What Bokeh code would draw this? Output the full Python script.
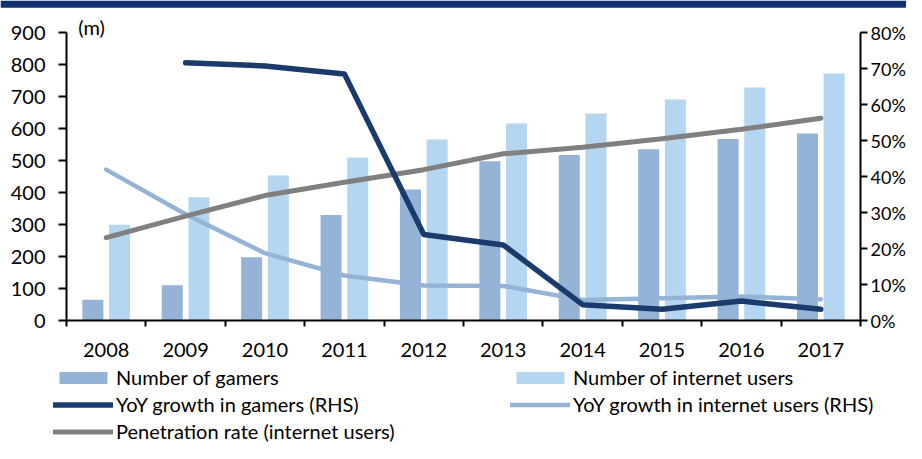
from bokeh.plotting import figure
from bokeh.models import (Range1d, LinearAxis, FixedTicker, PrintfTickFormatter,
                          Legend, LegendItem, Label, ColumnDataSource, BoxAnnotation)
from bokeh.embed import file_html
from bokeh.resources import INLINE

years = ["2008", "2009", "2010", "2011", "2012", "2013", "2014", "2015", "2016", "2017"]
gamers = [65, 110, 198, 330, 409, 498, 517, 535, 567, 584]
internet_users = [299, 385, 453, 509, 566, 616, 647, 691, 728, 772]
yoy_gamers = [float("nan"), 71.6, 70.7, 68.5, 23.9, 21.0, 4.4, 3.1, 5.4, 3.1]
yoy_internet = [41.9, 29.5, 18.7, 12.5, 9.7, 9.6, 5.7, 6.2, 6.7, 5.9]
penetration = [23.0, 29.0, 34.7, 38.4, 41.9, 46.3, 48.1, 50.5, 53.1, 56.2]
left_ticks = [0, 100, 200, 300, 400, 500, 600, 700, 800, 900]
right_ticks = [0, 10, 20, 30, 40, 50, 60, 70, 80]

FONT = "Lato"
FS = "20px"
C_GAMERS = "#95B3D7"
C_INTERNET = "#B5D6F0"
C_DARK = "#1B3B6D"
C_LIGHT = "#95B3D7"
C_GRAY = "#808080"
C_BAND = "#14316F"

W, H = 906, 443
# plot-area geometry (pixels within the figure)
FL, FR, FT, FB = 66, 860, 32, 320
n = len(years)
ppx = (FR - FL) / n              # px per category
ppy = (FB - FT) / 900.0          # px per left unit
ppr = (FB - FT) / 80.0           # px per right unit

x_lo = -0.5 - FL / ppx
x_hi = n - 0.5 + (W - FR) / ppx
y_lo = -(H - FB) / ppy
y_hi = 900 + FT / ppy
r_lo = -(H - FB) / ppr
r_hi = 80 + FT / ppr

idx = list(range(n))
src = ColumnDataSource(dict(
    x=idx,
    xg=[i - 0.168 for i in idx],
    xi=[i + 0.168 for i in idx],
    gamers=gamers,
    internet=internet_users,
    yoy_g=yoy_gamers,
    yoy_i=yoy_internet,
    pen=penetration,
))

p = figure(width=W, height=H, output_backend="svg", toolbar_location=None,
           x_range=Range1d(x_lo, x_hi), y_range=Range1d(y_lo, y_hi),
           min_border=0)
p.min_border_left = 0
p.min_border_right = 0
p.min_border_top = 0
p.min_border_bottom = 0
p.outline_line_color = None
p.xgrid.visible = False
p.ygrid.visible = False
p.background_fill_color = "white"
p.border_fill_color = "white"

p.extra_y_ranges = {"pct": Range1d(r_lo, r_hi)}

# title band (cropped header)
p.add_layout(BoxAnnotation(bottom=y_hi - 7.3 / ppy, top=y_hi, fill_color=C_BAND,
                           fill_alpha=1, line_color=None, level="underlay"))

# bars
r_g = p.vbar(x="xg", top="gamers", bottom=0, width=0.265, source=src,
             fill_color=C_GAMERS, line_color=None)
r_i = p.vbar(x="xi", top="internet", bottom=0, width=0.265, source=src,
             fill_color=C_INTERNET, line_color=None)

# lines
r_yi = p.line(x="x", y="yoy_i", source=src, y_range_name="pct", line_color=C_LIGHT,
              line_width=4.5, line_cap="round", line_join="round")
r_pen = p.line(x="x", y="pen", source=src, y_range_name="pct", line_color=C_GRAY,
               line_width=5, line_cap="round", line_join="round")
r_yg = p.line(x="x", y="yoy_g", source=src, y_range_name="pct", line_color=C_DARK,
              line_width=5.5, line_cap="round", line_join="round")

# x axis
xa = p.xaxis[0]
xa.fixed_location = 0
xa.bounds = (-0.5, n - 0.5)
xa.ticker = FixedTicker(ticks=idx, minor_ticks=[i - 0.5 for i in range(n + 1)])
xa.major_label_overrides = {i: y for i, y in zip(idx, years)}
xa.major_tick_line_color = None
xa.major_tick_in = 0
xa.major_tick_out = 6
xa.minor_tick_in = 0
xa.minor_tick_out = 6
xa.minor_tick_line_color = "black"
xa.minor_tick_line_width = 2
xa.axis_line_color = "black"
xa.axis_line_width = 2
xa.major_label_standoff = 16
xa.major_label_text_font = FONT
xa.major_label_text_font_size = FS
xa.major_label_text_color = "black"

# left axis
ya = p.yaxis[0]
ya.fixed_location = -0.5
ya.bounds = (0, 900)
ya.ticker = FixedTicker(ticks=left_ticks)
ya.major_tick_in = 0
ya.major_tick_out = 8
ya.minor_tick_line_color = None
ya.major_tick_line_width = 2
ya.axis_line_width = 2
ya.axis_line_color = "black"
ya.major_label_standoff = 13
ya.major_label_text_font = FONT
ya.major_label_text_font_size = FS
ya.major_label_text_color = "black"

# right axis
ra = LinearAxis(y_range_name="pct", ticker=FixedTicker(ticks=right_ticks),
                formatter=PrintfTickFormatter(format="%d%%"))
ra.fixed_location = n - 0.5
ra.bounds = (0, 80)
ra.major_tick_in = 0
ra.major_tick_out = 7
ra.minor_tick_line_color = None
ra.major_tick_line_width = 2
ra.axis_line_width = 2
ra.axis_line_color = "black"
ra.major_label_standoff = 3
ra.major_label_text_font = FONT
ra.major_label_text_font_size = "18px"
ra.major_label_text_color = "black"
p.add_layout(ra, "right")

# unit label
p.add_layout(Label(x=-0.185, y=916, text="(m)", text_align="center",
                   text_baseline="middle", text_font=FONT, text_font_size=FS,
                   text_color="black"))

legend = Legend(items=[
    LegendItem(label="Number of gamers", renderers=[r_g]),
    LegendItem(label="Number of internet users", renderers=[r_i]),
    LegendItem(label="YoY growth in gamers (RHS)", renderers=[r_yg]),
    LegendItem(label="YoY growth in internet users (RHS)", renderers=[r_yi]),
    LegendItem(label="Penetration rate (internet users)", renderers=[r_pen]),
], location=(53, 0), orientation="horizontal", ncols=2,
    glyph_width=60, glyph_height=15, label_standoff=3, label_width=391,
    label_height=22, spacing=3, padding=0, margin=0,
    border_line_color=None, background_fill_alpha=0,
    label_text_font=FONT, label_text_font_size=FS, label_text_color="black")
p.add_layout(legend)

open("out.html", "w").write(file_html(p, INLINE))
